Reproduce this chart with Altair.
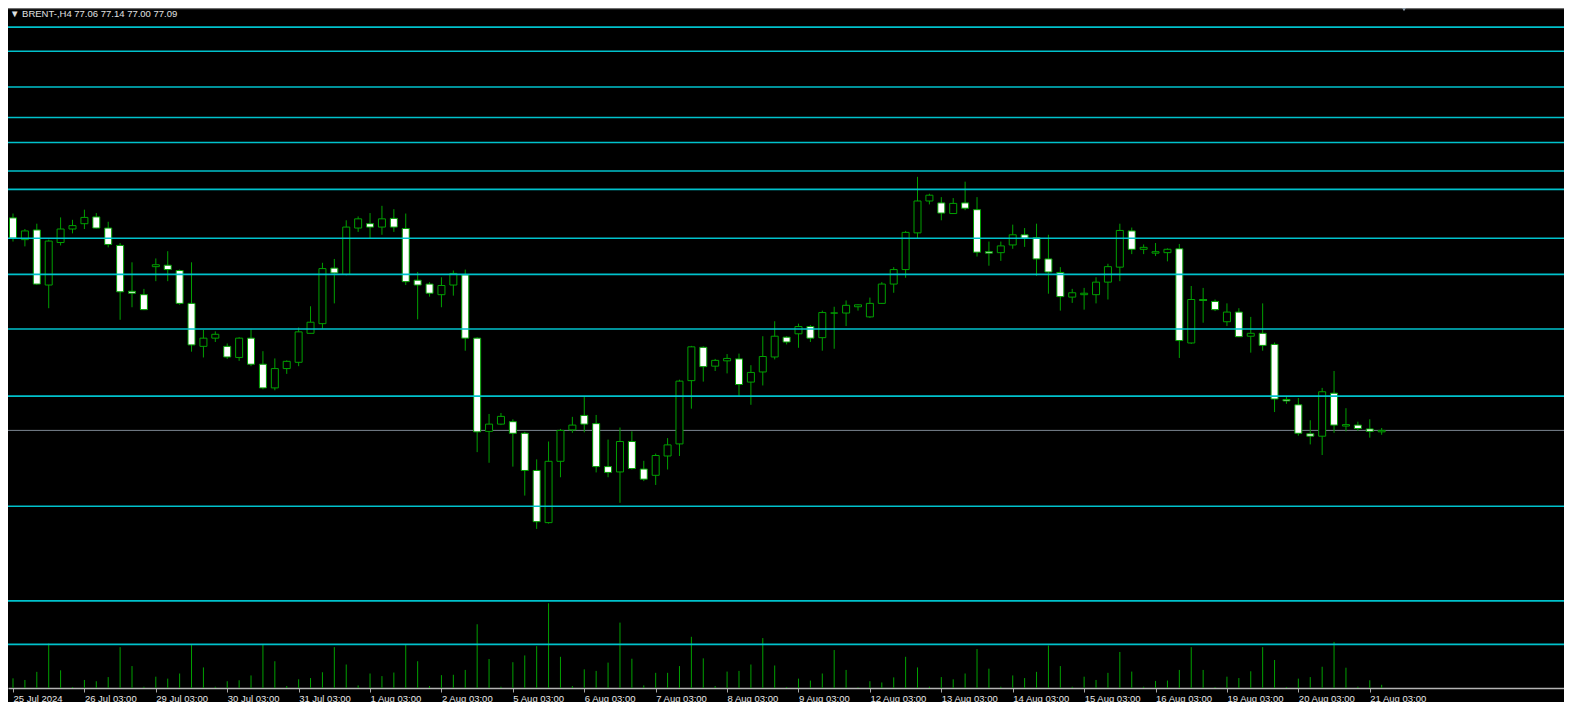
import json
import altair as alt
import pandas as pd

# ---- data (BRENT-, H4) ----
opens = [81.49, 81.04, 81.24, 80.10, 80.98, 81.26, 81.37, 81.51, 81.28, 80.92,
         79.97, 79.90, 80.48, 80.51, 80.40, 79.72, 78.83, 79.00, 78.83, 78.60,
         79.00, 78.46, 77.97, 78.37, 78.50, 79.10, 79.30, 80.45, 80.32, 81.28,
         81.37, 81.30, 81.48, 81.27, 80.20, 80.12, 79.90, 80.10, 80.31, 79.00,
         77.07, 77.22, 77.27, 77.03, 76.26, 75.18, 76.45, 77.10, 77.40, 77.23,
         76.34, 76.23, 76.86, 76.29, 76.16, 76.56, 76.81, 78.12, 78.81, 78.42,
         78.53, 78.57, 78.09, 78.30, 78.61, 79.02, 79.09, 79.24, 79.01, 79.52,
         79.52, 79.65, 79.44, 79.72, 80.12, 80.42, 81.18, 81.84, 81.80, 81.58,
         81.80, 81.66, 80.79, 80.77, 80.93, 81.14, 81.08, 80.64, 80.36, 79.85,
         79.90, 79.90, 80.16, 80.47, 81.22, 80.84, 80.76, 80.77, 80.85, 78.90,
         79.80, 79.76, 79.34, 79.54, 79.04, 79.10, 78.87, 77.73, 77.62, 77.02,
         76.97, 77.86, 77.18, 77.20, 77.12, 77.06]
highs = [81.58, 81.26, 81.37, 81.04, 81.50, 81.45, 81.66, 81.59, 81.41, 80.97,
         80.57, 80.02, 80.65, 80.80, 80.42, 80.57, 79.17, 79.14, 78.89, 79.02,
         79.18, 78.73, 78.58, 78.54, 79.22, 79.66, 80.56, 80.64, 81.44, 81.52,
         81.59, 81.74, 81.67, 81.58, 80.37, 80.16, 80.26, 80.40, 80.42, 79.02,
         77.43, 77.45, 77.32, 77.06, 76.49, 76.86, 77.12, 77.37, 77.78, 77.41,
         76.90, 77.15, 77.07, 76.46, 76.61, 76.93, 78.14, 78.84, 78.83, 78.57,
         78.67, 78.68, 78.44, 79.04, 79.35, 79.04, 79.30, 79.27, 79.57, 79.65,
         79.78, 79.70, 79.84, 80.16, 80.47, 81.22, 82.34, 81.99, 81.92, 81.90,
         82.24, 81.92, 81.00, 81.00, 81.35, 81.28, 81.37, 81.14, 80.47, 80.02,
         80.04, 80.26, 80.54, 81.37, 81.29, 80.94, 80.97, 80.86, 80.95, 80.08,
         80.04, 79.80, 79.72, 79.62, 79.44, 79.72, 78.91, 77.80, 77.76, 77.30,
         77.97, 78.32, 77.55, 77.27, 77.32, 77.14]
lows = [81.00, 80.90, 80.10, 79.62, 80.92, 81.17, 81.26, 81.27, 80.88, 79.38,
        79.64, 79.58, 80.18, 80.18, 79.69, 78.72, 78.60, 78.92, 78.57, 78.53,
        78.42, 77.94, 77.92, 78.26, 78.42, 79.10, 79.20, 79.72, 80.30, 81.20,
        81.07, 81.14, 81.20, 80.10, 79.39, 79.86, 79.64, 79.88, 78.74, 76.64,
        76.42, 77.20, 76.34, 75.74, 75.05, 75.16, 76.12, 77.04, 77.05, 76.22,
        76.12, 75.59, 76.28, 76.04, 75.96, 76.28, 76.56, 77.54, 78.10, 78.32,
        78.27, 77.80, 77.62, 78.02, 78.56, 78.87, 78.80, 78.92, 78.74, 78.78,
        79.25, 79.57, 79.42, 79.71, 79.94, 80.25, 81.07, 81.77, 81.44, 81.57,
        81.65, 80.69, 80.50, 80.60, 80.85, 80.89, 80.29, 79.92, 79.57, 79.73,
        79.59, 79.72, 79.80, 80.18, 80.74, 80.74, 80.70, 80.59, 78.59, 78.88,
        79.32, 79.56, 79.25, 79.02, 78.70, 78.74, 77.47, 77.64, 76.98, 76.80,
        76.58, 77.04, 77.07, 77.08, 76.94, 77.00]
closes = [81.07, 81.22, 80.12, 81.01, 81.26, 81.33, 81.50, 81.28, 80.94, 79.96,
          79.93, 79.59, 80.52, 80.42, 79.72, 78.86, 79.00, 79.08, 78.61, 79.00,
          78.46, 77.97, 78.37, 78.52, 79.13, 79.33, 80.44, 80.35, 81.30, 81.47,
          81.30, 81.47, 81.30, 80.17, 80.10, 79.93, 80.09, 80.34, 79.00, 77.06,
          77.22, 77.38, 77.03, 76.26, 75.20, 76.45, 77.09, 77.20, 77.22, 76.34,
          76.22, 76.86, 76.30, 76.08, 76.57, 76.79, 78.11, 78.82, 78.41, 78.54,
          78.58, 78.04, 78.29, 78.62, 79.04, 78.92, 79.24, 79.00, 79.53, 79.52,
          79.68, 79.69, 79.72, 80.12, 80.42, 81.19, 81.84, 81.96, 81.59, 81.79,
          81.69, 80.78, 80.76, 80.91, 81.14, 81.07, 80.64, 80.37, 79.86, 79.94,
          79.93, 80.16, 80.48, 81.23, 80.84, 80.88, 80.79, 80.84, 78.95, 79.80,
          79.78, 79.59, 79.54, 79.03, 79.10, 78.85, 77.74, 77.70, 77.03, 76.97,
          77.89, 77.20, 77.21, 77.13, 77.07, 77.09]
volumes = [1000, 830, 1670, 4600, 1830, 100, 830, 700, 1130, 4230,
           2270, 130, 1170, 970, 1500, 4500, 2130, 130, 700, 800,
           1300, 4500, 2770, 200, 900, 1030, 1630, 4230, 2430, 270,
           1500, 1230, 1600, 4500, 2770, 200, 1330, 1370, 1870, 6600,
           3000, 130, 2670, 3370, 4330, 8770, 3230, 200, 1930, 1770,
           2630, 6770, 3030, 270, 1570, 1570, 2270, 5300, 3070, 200,
           1700, 1770, 2430, 5170, 2330, 100, 970, 770, 1500, 3930,
           1870, 70, 700, 570, 1100, 3230, 2130, 130, 1130, 900,
           1500, 4030, 2000, 130, 1300, 1030, 1670, 4400, 2270, 130,
           1170, 830, 1570, 3730, 1700, 130, 730, 770, 1870, 4230,
           1870, 100, 1170, 1030, 1730, 4230, 2900, 100, 970, 1130,
           2200, 4770, 2100, 130, 800, 330]
day_labels = ["25 Jul 2024", "26 Jul 03:00", "29 Jul 03:00", "30 Jul 03:00",
              "31 Jul 03:00", "1 Aug 03:00", "2 Aug 03:00", "5 Aug 03:00",
              "6 Aug 03:00", "7 Aug 03:00", "8 Aug 03:00", "9 Aug 03:00",
              "12 Aug 03:00", "13 Aug 03:00", "14 Aug 03:00", "15 Aug 03:00",
              "16 Aug 03:00", "19 Aug 03:00", "20 Aug 03:00", "21 Aug 03:00"]
bars_per_day = 6
level_prices = [85.44, 84.94, 84.20, 83.57, 83.05, 82.46, 82.08, 81.07,
                80.32, 79.19, 77.80, 75.52, 73.56, 72.66]
bid_price = [77.09]
header = "\u25BC BRENT-,H4  77.06 77.14 77.00 77.09"

# ---- tables ----
n = len(opens)
df = pd.DataFrame({"i": list(range(n)), "open": opens, "high": highs,
                   "low": lows, "close": closes, "volume": volumes})
df["kind"] = ["bear" if c < o else "bull" for o, c in zip(opens, closes)]
levels = pd.DataFrame({"price": level_prices})
bid = pd.DataFrame({"price": bid_price})
head = pd.DataFrame({"t": [header]})

W, H = 1556, 680
GREEN = "#00a000"
x_scale = alt.Scale(domain=[0, 129.9], nice=False, zero=False)
y_scale = alt.Scale(domain=[71.756, 85.836], nice=False, zero=False)
v_scale = alt.Scale(domain=[0, 70400], nice=False, zero=True)

x_axis = alt.Axis(values=list(range(0, n, bars_per_day)),
                  labelExpr=json.dumps(day_labels) + "[round(datum.value/%d)]" % bars_per_day,
                  labelAlign="left", labelBaseline="top", labelPadding=1,
                  tickSize=4, tickColor="#a8a8a8", domainColor="#b4b4b4", domainWidth=1.5,
                  labelColor="#e8e8e8", labelFont="Liberation Sans", labelFontSize=9.5,
                  grid=False, title=None, labelFlush=False, labelOverlap=False)

base = alt.Chart(df)

vol = base.mark_rule(color=GREEN, strokeWidth=1).encode(
    x=alt.X("i:Q", scale=x_scale, axis=x_axis),
    y=alt.Y("volume:Q", scale=v_scale, axis=None),
    y2=alt.datum(0),
)

wicks = base.mark_rule(color=GREEN, strokeWidth=1).encode(
    x=alt.X("i:Q", scale=x_scale, axis=x_axis),
    y=alt.Y("low:Q", scale=y_scale, axis=None),
    y2="high:Q",
)

bodies = base.mark_bar(size=7, stroke=GREEN, strokeWidth=1).encode(
    x=alt.X("i:Q", scale=x_scale, axis=x_axis),
    y=alt.Y("open:Q", scale=y_scale, axis=None),
    y2="close:Q",
    fill=alt.Fill("kind:N", scale=alt.Scale(domain=["bear", "bull"], range=["#ffffff", "#000000"]), legend=None),
)

bid_line = alt.Chart(bid).mark_rule(color="#7a8590", strokeWidth=1).encode(
    y=alt.Y("price:Q", scale=y_scale, axis=None))

level_lines = alt.Chart(levels).mark_rule(color="#00c2cc", strokeWidth=1.6).encode(
    y=alt.Y("price:Q", scale=y_scale, axis=None))

top_border = alt.Chart(head).mark_rule(color="#6e6e6e", strokeWidth=1.5).encode(
    y=alt.value(0.5))

header_text = alt.Chart(head).mark_text(
    align="left", baseline="middle", font="Liberation Sans", fontSize=9.5, color="#e0e0e0"
).encode(text="t:N", x=alt.value(2), y=alt.value(6))

shift_marker = alt.Chart(head).mark_point(
    shape="triangle-down", filled=True, size=60, color="#8e9ca8", opacity=1
).encode(x=alt.value(1396), y=alt.value(0))

price_layers = alt.layer(bid_line, wicks, bodies, level_lines, top_border, header_text, shift_marker)

chart = alt.layer(vol, price_layers).resolve_scale(y="independent").properties(
    width=W, height=H,
    padding={"left": 0, "top": 0, "right": 0, "bottom": 14},
    autosize=alt.AutoSizeParams(type="none"),
    background="#000000",
).configure_view(stroke=None, fill="#000000")

chart.save("out.html", embed_options={"renderer": "svg", "actions": False})
